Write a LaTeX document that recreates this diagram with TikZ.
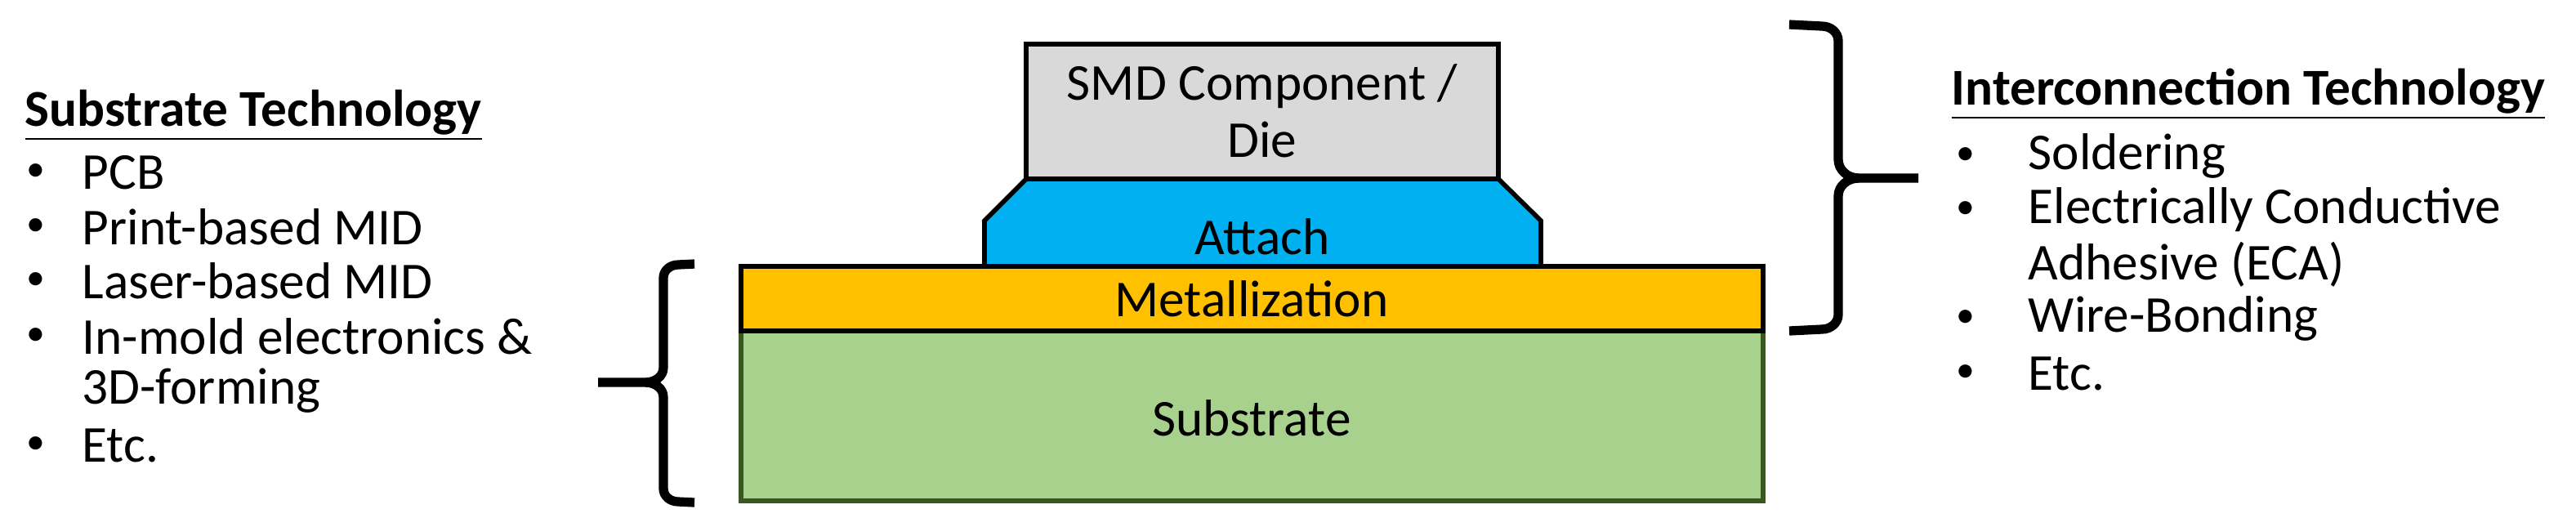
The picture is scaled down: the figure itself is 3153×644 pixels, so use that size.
\documentclass[tikz,border=0pt]{standalone}
\usepackage{fontspec}
\setmainfont{Carlito}
\begin{document}
\begin{tikzpicture}[x=0.01cm,y=-0.01cm,
  lay/.style={draw=black,line width=1.6pt},
  txt/.style={font=\fontsize{18}{21}\selectfont,inner sep=0pt},
  it/.style={txt,anchor=west},
  bul/.style={anchor=center,inner sep=0pt,font=\fontsize{13}{15}\selectfont},
  br/.style={line width=3.2pt,line cap=butt}]
\useasboundingbox (0,0) rectangle (3153,644);
% substrate & layers
\draw[lay,fill={rgb,255:red,169;green,209;blue,142},draw={rgb,255:red,56;green,87;blue,35}] (907,405) rectangle (2158,613);
\node[txt] (sub) at (1532,512) {Substrate};
\draw[lay,fill={rgb,255:red,255;green,192;blue,0}] (907,326) rectangle (2158,405);
\node[txt] (met) at (1532,366) {Metallization};
\draw[lay,fill={rgb,255:red,0;green,176;blue,240}] (1205,326) -- (1205,270) -- (1256,219) -- (1834,219) -- (1886,270) -- (1886,326) -- cycle;
\node[txt] (att) at (1545,290) {Attach};
\draw[lay,fill={rgb,255:red,217;green,217;blue,217}] (1256,54) rectangle (1834,219);
\node[txt,align=center] (smd) at (1545,136) {SMD Component /\\[-1pt]Die};
% left brace
\draw[br] (850,323) -- (830,324) to[out=180,in=90] (812,340) -- (812,450) to[out=-90,in=0] (790,468) -- (732,468);
\draw[br] (790,468) to[out=0,in=90] (812,486) -- (812,598) to[out=-90,in=180] (830,614) -- (850,615);
% right brace
\draw[br] (2190,30) -- (2230,32) to[out=0,in=90] (2250,50) -- (2250,195) to[out=-90,in=180] (2275,218) -- (2348,218);
\draw[br] (2275,218) to[out=180,in=90] (2250,240) -- (2250,385) to[out=-90,in=0] (2230,403) -- (2190,405);
% left text
\node[it,font=\fontsize{18}{21}\selectfont\bfseries] (lt) at (30,141) {\underline{Substrate Technology}};
\foreach \t/\y/\b [count=\i] in {PCB/211/1, Print-based MID/278/1, Laser-based MID/344/1, In-mold electronics \&/412/1, 3D-forming/478/0, Etc./545/1}{
  \ifnum\b=1 \node[bul] (lb\i) at (44,\y) {•};\fi
  \node[it] (l\i) at (100,\y) {\t};
}
% right text
\node[it,font=\fontsize{18}{21}\selectfont\bfseries] (rt) at (2388,115) {\underline{Interconnection Technology}};
\foreach \t/\y/\b [count=\i] in {Soldering/191/1, Electrically Conductive/257/1, Adhesive (ECA)/324/0, Wire-Bonding/390/1, Etc./457/1}{
  \ifnum\b=1 \node[bul] (rb\i) at (2406,\y) {•};\fi
  \node[it] (r\i) at (2482,\y) {\t};
}
\end{tikzpicture}
\end{document}
